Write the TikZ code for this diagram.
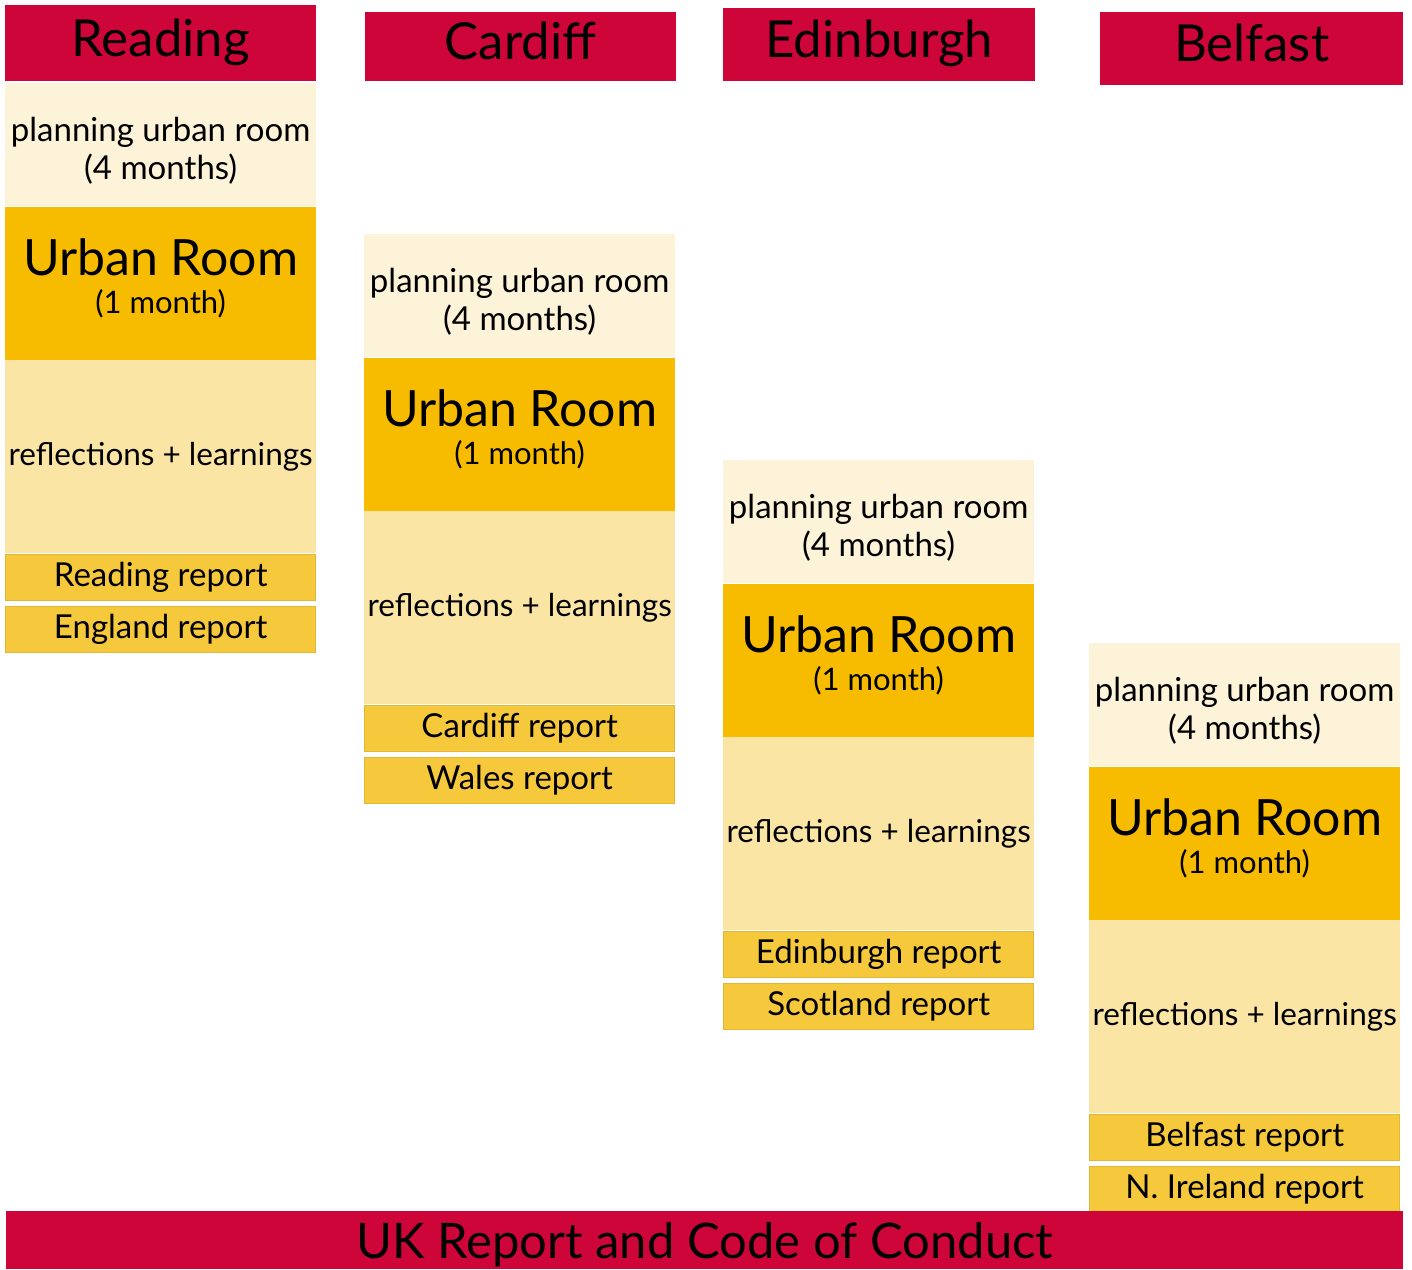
\documentclass[tikz,border=0pt]{standalone}
\usepackage{fontspec}
\setmainfont{Lato}
\usetikzlibrary{positioning}

\definecolor{ukred}{HTML}{CE0538}
\definecolor{planfill}{HTML}{FCF3D9}
\definecolor{roomfill}{HTML}{F7BC00}
\definecolor{reflfill}{HTML}{FBE5A5}
\definecolor{repfill}{HTML}{F6C83B}
\definecolor{repline}{HTML}{E3B636}

\begin{document}
\begin{tikzpicture}[x=1pt, y=-1pt,
    block/.style={rectangle, inner sep=0pt, anchor=north west, minimum width=311pt, align=center, font=\fontsize{33}{38}\selectfont},
    header/.style={rectangle, inner sep=0pt, anchor=north west, fill=ukred, text height=37pt, text depth=11pt, font=\fontsize{51}{54}\selectfont},
    plan/.style={block, fill=planfill, minimum height=123pt},
    room/.style={block, fill=roomfill, minimum height=153pt},
    refl/.style={block, fill=reflfill, minimum height=193pt, font=\fontsize{31.5}{38}\selectfont},
    report/.style={block, fill=repfill, draw=repline, line width=1pt, minimum width=310pt, minimum height=46pt}
]
    \useasboundingbox (0,0) rectangle (1412,1269);

    % City headers
    \node[header, minimum width=311pt, minimum height=76pt] (head-Reading) at (5,5) {Reading};
    \node[header, minimum width=311pt, minimum height=69pt] (head-Cardiff) at (365,12) {Cardiff};
    \node[header, minimum width=312pt, minimum height=73pt] (head-Edinburgh) at (723,8) {Edinburgh};
    \node[header, minimum width=303pt, minimum height=73pt] (head-Belfast) at (1100,12) {Belfast};

    % Stacked phases for each city
    \foreach \city/\x/\top/\local/\nation in {Reading/5/83/Reading/England, Cardiff/364/234/Cardiff/Wales, Edinburgh/723/460/Edinburgh/Scotland, Belfast/1089/643/Belfast/N. Ireland} {
        \node[plan] (plan-\city) at (\x,\top) {\rule{0pt}{36pt}planning urban room\\(4 months)};
        \node[room, below=0pt of plan-\city] (room-\city) {\fontsize{50}{50}\selectfont Urban Room\\[0pt]\fontsize{31}{36}\selectfont (1 month)\rule[-14pt]{0pt}{14pt}};
        \node[refl, below=0pt of room-\city] (refl-\city) {reflections + learnings};
        \node[report, below=0.5pt of refl-\city] (rep-\city) {\local\ report};
        \node[report, below=5pt of rep-\city] (nat-\city) {\nation\ report};
    }

    % Final UK report
    \node[header, minimum width=1397pt, minimum height=58pt, text height=36pt, text depth=0pt, font=\fontsize{49}{52}\selectfont] (uk) at (6,1211) {UK Report and Code of Conduct};
\end{tikzpicture}
\end{document}
